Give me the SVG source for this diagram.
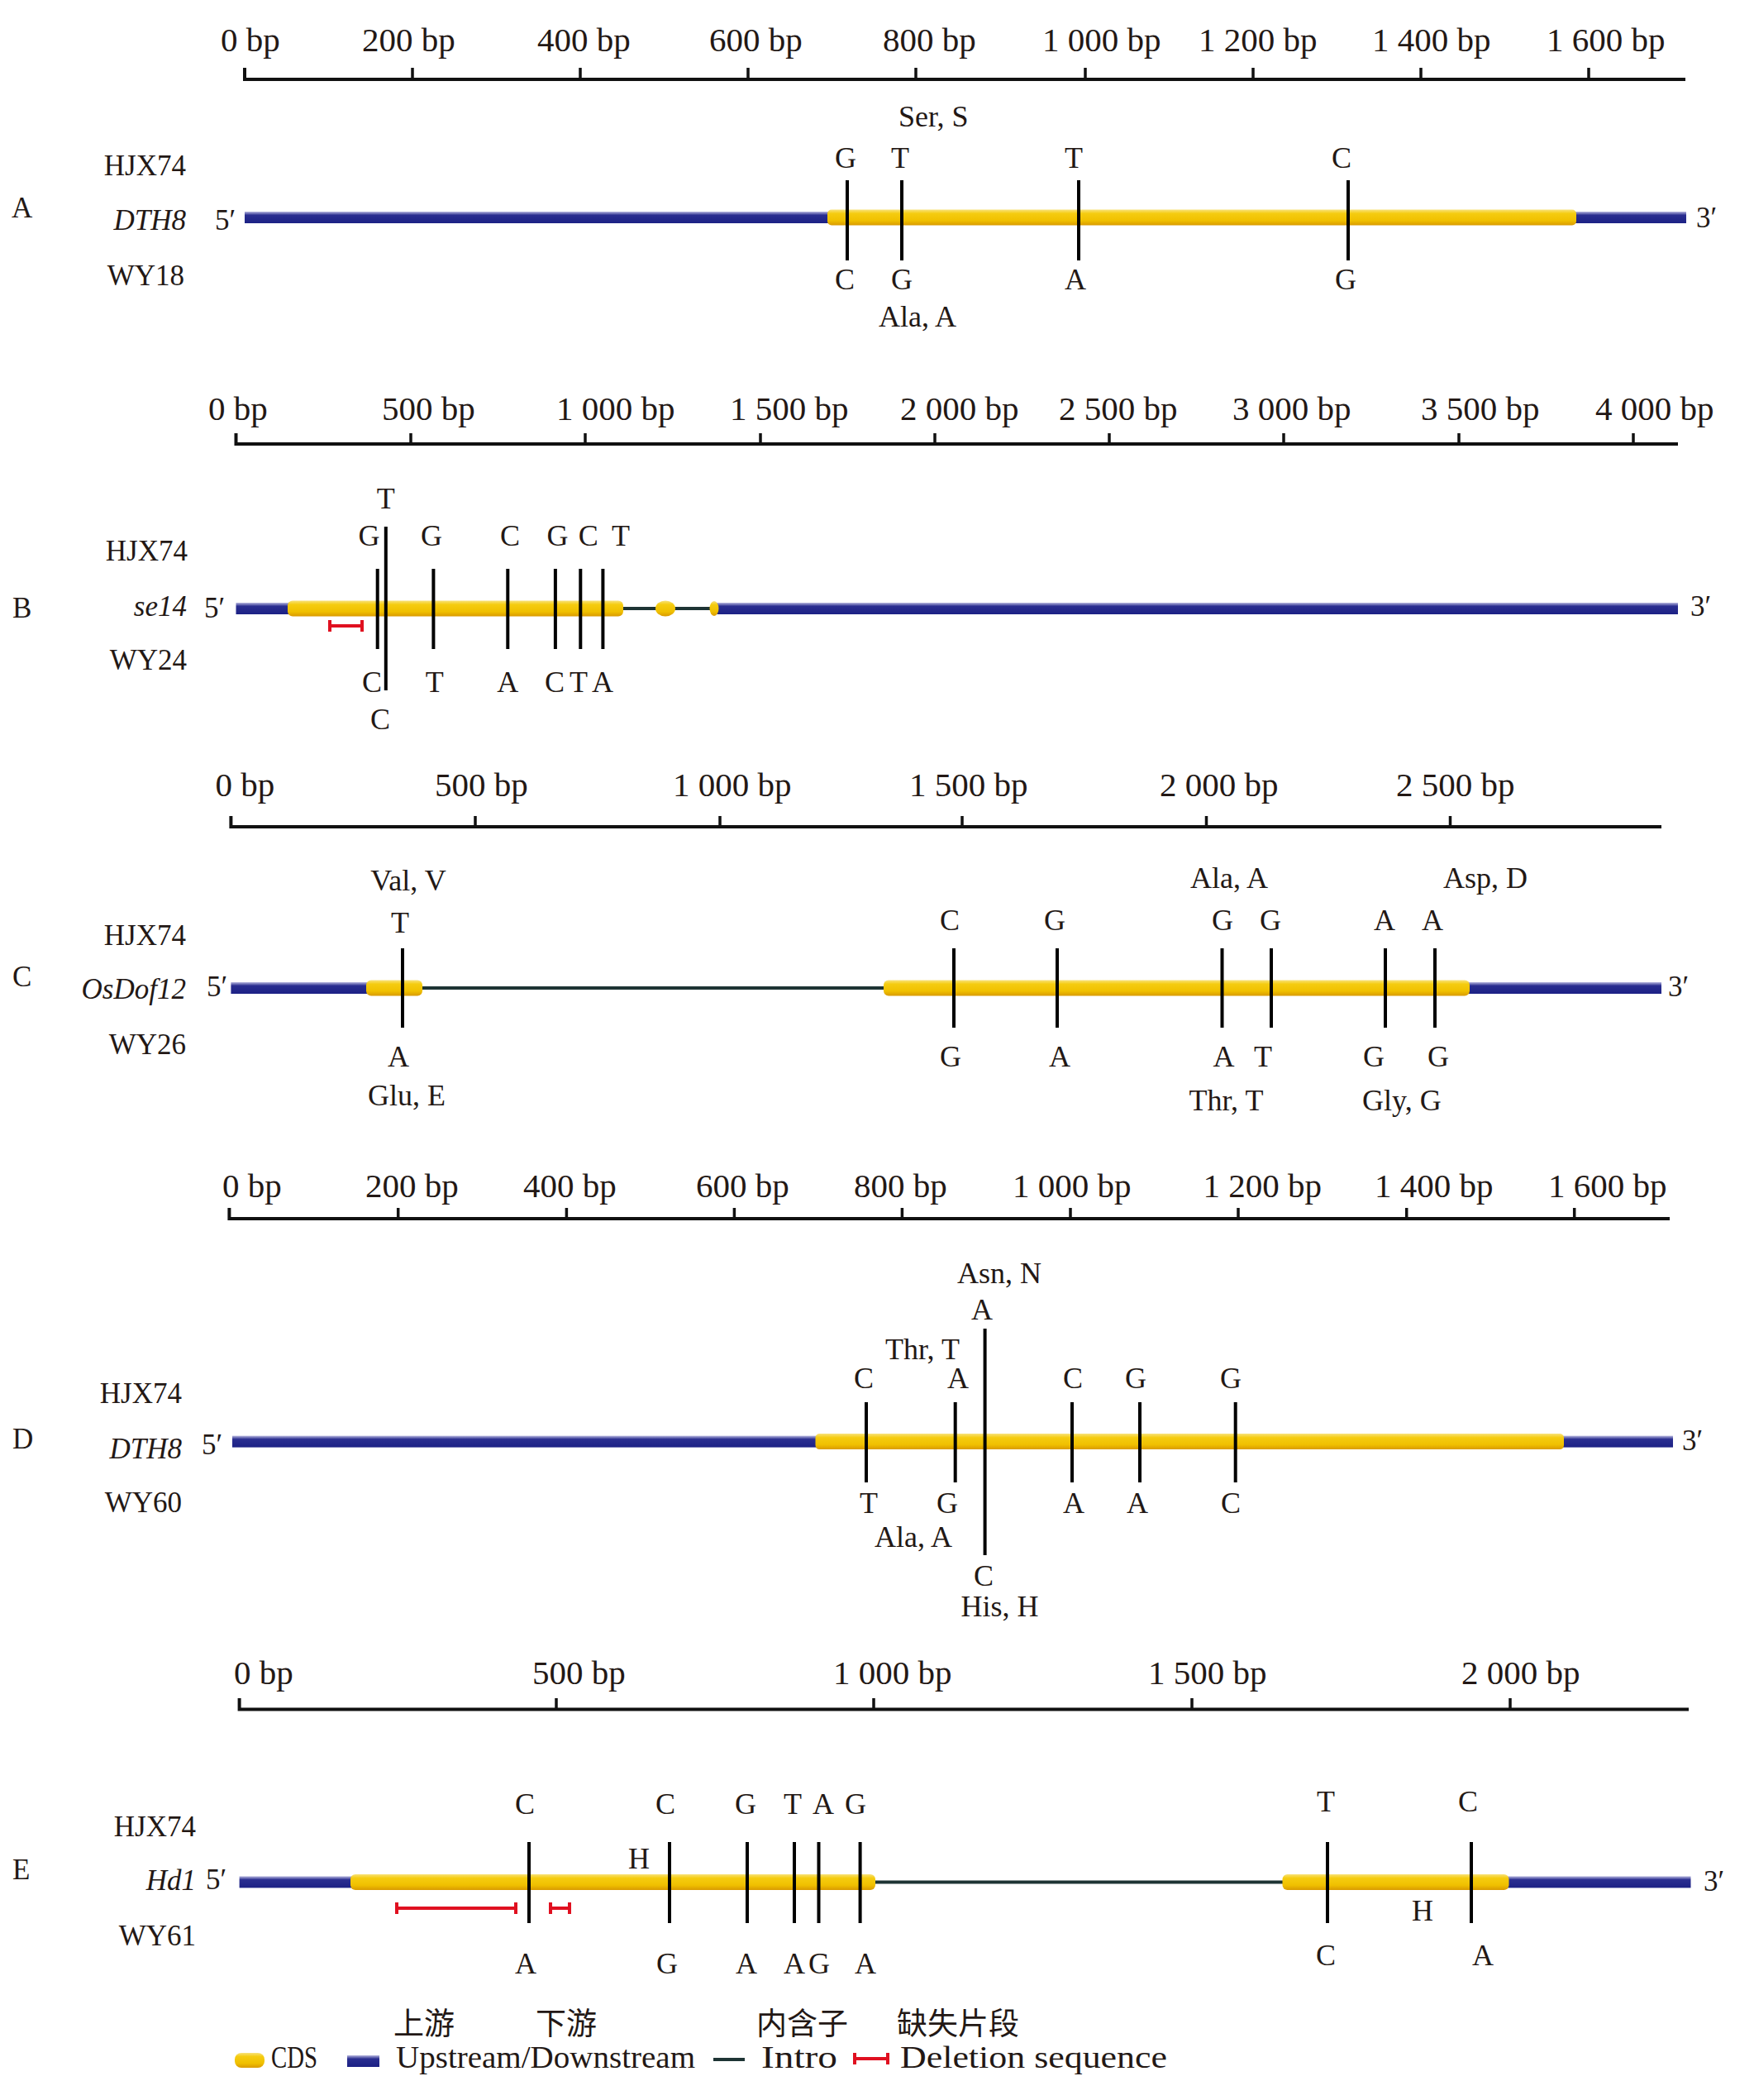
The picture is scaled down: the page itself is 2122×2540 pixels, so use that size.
<svg xmlns="http://www.w3.org/2000/svg" width="2122" height="2540" viewBox="0 0 2122 2540">
<defs>
<linearGradient id="gY" x1="0" y1="0" x2="0" y2="1">
<stop offset="0" stop-color="#f8e27a"/><stop offset="0.25" stop-color="#f5cc10"/><stop offset="0.7" stop-color="#f0c000"/><stop offset="1" stop-color="#d99a00"/>
</linearGradient>
<linearGradient id="gB" x1="0" y1="0" x2="0" y2="1">
<stop offset="0" stop-color="#b8b8e0"/><stop offset="0.3" stop-color="#2a2e90"/><stop offset="1" stop-color="#1c2185"/>
</linearGradient>
<style>
text{font-family:"Liberation Serif","Noto Sans CJK SC",serif;fill:#231815}
.ax{font-size:41px}
.lab{font-size:35px}
.leg{font-size:37px}
.end{text-anchor:end}
.mid{text-anchor:middle}
.snp{font-size:36px;text-anchor:middle}
.aa{font-size:36px}
.gn{font-style:italic}
.cjk{font-family:"Noto Sans CJK SC",sans-serif;font-size:37px}
.axis{stroke:#111;stroke-width:4;fill:none}
.tick{stroke:#111;stroke-width:3.5}
.mut{stroke:#000;stroke-width:4}
.intron{stroke:#1e3434;stroke-width:4}
.del{stroke:#e01020;stroke-width:4;fill:none}
.cds{fill:url(#gY)}
.utr{fill:url(#gB)}
</style>
</defs>
<rect width="2122" height="2540" fill="#fff"/>

<!-- Panel A -->
<g id="panel-A">
<g id="axis-A">
<path class="axis" d="M296,82V96H2039"/>
<path class="tick" d="M499,82V96M702,82V96M905,82V96M1108,82V96M1313,82V96M1516,82V96M1719,82V96M1922,82V96"/>
<text class="ax" x="267" y="62">0 bp</text>
<text class="ax" x="438" y="62">200 bp</text>
<text class="ax" x="650" y="62">400 bp</text>
<text class="ax" x="858" y="62">600 bp</text>
<text class="ax" x="1068" y="62">800 bp</text>
<text class="ax" x="1261" y="62">1 000 bp</text>
<text class="ax" x="1450" y="62">1 200 bp</text>
<text class="ax" x="1660" y="62">1 400 bp</text>
<text class="ax" x="1871" y="62">1 600 bp</text>
</g>
<g id="labels-A">
<text class="lab" x="14" y="263">A</text>
<text class="lab end" x="225" y="212">HJX74</text>
<text class="lab end gn" x="225" y="278">DTH8</text>
<text class="lab" x="260" y="278">5′</text>
<text class="lab end" x="223" y="345">WY18</text>
<text class="lab" x="2052" y="275">3′</text>
</g>
<g id="gene-A">
<rect class="utr" x="296" y="256" width="711" height="14"/>
<rect class="utr" x="1900" y="256" width="140" height="14"/>
<rect class="cds" x="1001" y="253.5" width="906" height="19" rx="5"/>
</g>
<g id="snp-A">
<path class="mut" d="M1025,218V315M1091,218V315M1305,218V315M1631,218V315"/>
<text class="snp" x="1023" y="203">G</text><text class="snp" x="1089" y="203">T</text><text class="snp" x="1299" y="203">T</text><text class="snp" x="1623" y="203">C</text>
<text class="snp" x="1022" y="350">C</text><text class="snp" x="1091" y="350">G</text><text class="snp" x="1301" y="350">A</text><text class="snp" x="1628" y="350">G</text>
<text class="aa" x="1087" y="153">Ser, S</text>
<text class="aa" x="1063" y="395">Ala, A</text>
</g>
</g>

<!-- Panel B -->
<g id="panel-B">
<g id="axis-B">
<path class="axis" d="M285.5,524V537H2030"/>
<path class="tick" d="M497,524V537M708,524V537M920,524V537M1131,524V537M1342,524V537M1553,524V537M1765,524V537M1976,524V537"/>
<text class="ax" x="252" y="508">0 bp</text>
<text class="ax" x="462" y="508">500 bp</text>
<text class="ax" x="673" y="508">1 000 bp</text>
<text class="ax" x="883" y="508">1 500 bp</text>
<text class="ax" x="1089" y="508">2 000 bp</text>
<text class="ax" x="1281" y="508">2 500 bp</text>
<text class="ax" x="1491" y="508">3 000 bp</text>
<text class="ax" x="1719" y="508">3 500 bp</text>
<text class="ax" x="1930" y="508">4 000 bp</text>
</g>
<g id="labels-B">
<text class="lab" x="15" y="747">B</text>
<text class="lab end" x="227" y="678">HJX74</text>
<text class="lab end gn" x="226" y="745">se14</text>
<text class="lab" x="247" y="747">5′</text>
<text class="lab end" x="226" y="810">WY24</text>
<text class="lab" x="2045" y="745">3′</text>
</g>
<g id="gene-B">
<line class="intron" x1="750" y1="736" x2="866" y2="736"/>
<rect class="utr" x="285.5" y="729" width="70" height="14"/>
<rect class="utr" x="866" y="729" width="1164" height="14"/>
<rect class="cds" x="348" y="726.5" width="406" height="19" rx="6"/>
<ellipse class="cds" cx="805" cy="736" rx="12" ry="9.5"/>
<ellipse class="cds" cx="864" cy="736" rx="5.5" ry="9"/>
<path class="del" d="M399,757H438M399,750V764M438,750V764"/>
</g>
<g id="snp-B">
<path class="mut" d="M456.7,688V785M524.4,688V785M614.3,688V785M671.9,688V785M702.3,688V785M729.4,688V785M466.8,637V835"/>
<text class="snp" x="446.5" y="660">G</text><text class="snp" x="522" y="660">G</text><text class="snp" x="617" y="660">C</text><text class="snp" x="674.5" y="660">G</text><text class="snp" x="711.8" y="660">C</text><text class="snp" x="751" y="660">T</text>
<text class="snp" x="466.8" y="615">T</text>
<text class="snp" x="450" y="837">C</text><text class="snp" x="525.7" y="837">T</text><text class="snp" x="614.3" y="837">A</text><text class="snp" x="671" y="837">C</text><text class="snp" x="700" y="837">T</text><text class="snp" x="729" y="837">A</text>
<text class="snp" x="460" y="882">C</text>
</g>
</g>

<!-- Panel C -->
<g id="panel-C">
<g id="axis-C">
<path class="axis" d="M279.4,987V1000H2010"/>
<path class="tick" d="M575,987V1000M871,987V1000M1164,987V1000M1459.5,987V1000M1754.5,987V1000"/>
<text class="ax" x="260.5" y="963">0 bp</text>
<text class="ax" x="526" y="963">500 bp</text>
<text class="ax" x="814" y="963">1 000 bp</text>
<text class="ax" x="1100" y="963">1 500 bp</text>
<text class="ax" x="1403" y="963">2 000 bp</text>
<text class="ax" x="1689" y="963">2 500 bp</text>
</g>
<g id="labels-C">
<text class="lab" x="15" y="1193">C</text>
<text class="lab end" x="225" y="1143">HJX74</text>
<text class="lab end gn" x="225" y="1208">OsDof12</text>
<text class="lab" x="250" y="1205">5′</text>
<text class="lab end" x="225" y="1275">WY26</text>
<text class="lab" x="2018" y="1205">3′</text>
</g>
<g id="gene-C">
<line class="intron" x1="505" y1="1195" x2="1075" y2="1195"/>
<rect class="utr" x="279.4" y="1188" width="170" height="14"/>
<rect class="utr" x="1772" y="1188" width="238" height="14"/>
<rect class="cds" x="443" y="1185.5" width="68" height="19" rx="6"/>
<rect class="cds" x="1069" y="1185.5" width="709" height="19" rx="6"/>
</g>
<g id="snp-C">
<path class="mut" d="M487,1147V1243M1154,1147V1243M1279,1147V1243M1478.5,1147V1243M1538,1147V1243M1676,1147V1243M1736,1147V1243"/>
<text class="snp" x="484" y="1128">T</text><text class="snp" x="1149" y="1125">C</text><text class="snp" x="1276" y="1125">G</text><text class="snp" x="1479" y="1125">G</text><text class="snp" x="1537" y="1125">G</text><text class="snp" x="1675" y="1125">A</text><text class="snp" x="1733" y="1125">A</text>
<text class="snp" x="482" y="1290">A</text><text class="snp" x="1150" y="1290">G</text><text class="snp" x="1282" y="1290">A</text><text class="snp" x="1480.5" y="1290">A</text><text class="snp" x="1528" y="1290">T</text><text class="snp" x="1662" y="1290">G</text><text class="snp" x="1740" y="1290">G</text>
<text class="aa mid" x="494" y="1077">Val, V</text>
<text class="aa mid" x="492" y="1337">Glu, E</text>
<text class="aa" x="1440" y="1074">Ala, A</text>
<text class="aa" x="1746" y="1074">Asp, D</text>
<text class="aa" x="1438.5" y="1343">Thr, T</text>
<text class="aa" x="1648" y="1343">Gly, G</text>
</g>
</g>

<!-- Panel D -->
<g id="panel-D">
<g id="axis-D">
<path class="axis" d="M277.4,1461V1474H2020"/>
<path class="tick" d="M481.7,1461V1474M685.4,1461V1474M888.4,1461V1474M1091.4,1461V1474M1295,1461V1474M1498,1461V1474M1701.7,1461V1474M1904.7,1461V1474"/>
<text class="ax" x="269" y="1448">0 bp</text>
<text class="ax" x="442" y="1448">200 bp</text>
<text class="ax" x="633" y="1448">400 bp</text>
<text class="ax" x="842" y="1448">600 bp</text>
<text class="ax" x="1033" y="1448">800 bp</text>
<text class="ax" x="1225" y="1448">1 000 bp</text>
<text class="ax" x="1455.5" y="1448">1 200 bp</text>
<text class="ax" x="1663" y="1448">1 400 bp</text>
<text class="ax" x="1873" y="1448">1 600 bp</text>
</g>
<g id="labels-D">
<text class="lab" x="15" y="1752">D</text>
<text class="lab end" x="220" y="1697">HJX74</text>
<text class="lab end gn" x="220" y="1764">DTH8</text>
<text class="lab" x="244" y="1759">5′</text>
<text class="lab end" x="220" y="1829">WY60</text>
<text class="lab" x="2035" y="1754">3′</text>
</g>
<g id="gene-D">
<rect class="utr" x="281" y="1736.6" width="712" height="14"/>
<rect class="utr" x="1886" y="1736.6" width="138" height="14"/>
<rect class="cds" x="986.5" y="1734.1" width="905.5" height="19" rx="5"/>
</g>
<g id="snp-D">
<path class="mut" d="M1048,1696V1793M1155.7,1696V1793M1297,1696V1793M1379,1696V1793M1494.7,1696V1793M1191.6,1607V1881"/>
<text class="snp" x="1045" y="1679">C</text><text class="snp" x="1159" y="1679">A</text><text class="snp" x="1298" y="1679">C</text><text class="snp" x="1374" y="1679">G</text><text class="snp" x="1489" y="1679">G</text>
<text class="snp" x="1188" y="1596">A</text>
<text class="snp" x="1051" y="1830">T</text><text class="snp" x="1146" y="1830">G</text><text class="snp" x="1299" y="1830">A</text><text class="snp" x="1376" y="1830">A</text><text class="snp" x="1489" y="1830">C</text>
<text class="snp" x="1190" y="1918">C</text>
<text class="aa" x="1158" y="1552">Asn, N</text>
<text class="aa" x="1071" y="1644">Thr, T</text>
<text class="aa" x="1058" y="1871">Ala, A</text>
<text class="aa" x="1162.5" y="1955">His, H</text>
</g>
</g>

<!-- Panel E -->
<g id="panel-E">
<g id="axis-E">
<path class="axis" d="M289.6,2054V2067.5H2043"/>
<path class="tick" d="M673,2054V2067.5M1057,2054V2067.5M1442,2054V2067.5M1827,2054V2067.5"/>
<text class="ax" x="283" y="2037">0 bp</text>
<text class="ax" x="644" y="2037">500 bp</text>
<text class="ax" x="1008" y="2037">1 000 bp</text>
<text class="ax" x="1389" y="2037">1 500 bp</text>
<text class="ax" x="1768" y="2037">2 000 bp</text>
</g>
<g id="labels-E">
<text class="lab" x="15" y="2273">E</text>
<text class="lab end" x="237" y="2221">HJX74</text>
<text class="lab end gn" x="237" y="2286">Hd1</text>
<text class="lab" x="249" y="2285">5′</text>
<text class="lab end" x="237" y="2353">WY61</text>
<text class="lab" x="2061" y="2287">3′</text>
</g>
<g id="gene-E">
<line class="intron" x1="1053" y1="2276.4" x2="1557" y2="2276.4"/>
<rect class="utr" x="289.6" y="2269.4" width="141" height="14"/>
<rect class="utr" x="1819" y="2269.4" width="226.5" height="14"/>
<rect class="cds" x="424" y="2266.9" width="635" height="19" rx="6"/>
<rect class="cds" x="1551.5" y="2266.9" width="274" height="19" rx="6"/>
<path class="del" d="M480,2308H624M480,2301V2315M624,2301V2315M666,2308H689M666,2301V2315M689,2301V2315"/>
</g>
<g id="snp-E">
<path class="mut" d="M640,2228V2326M810,2228V2326M904,2228V2326M961,2228V2326M990.5,2228V2326M1040.6,2228V2326M1606,2228V2326M1780,2228V2326"/>
<text class="snp" x="635" y="2194">C</text><text class="snp" x="805" y="2194">C</text><text class="snp" x="902" y="2194">G</text><text class="snp" x="959" y="2194">T</text><text class="snp" x="996" y="2194">A</text><text class="snp" x="1035" y="2194">G</text><text class="snp" x="1604" y="2191">T</text><text class="snp" x="1776" y="2191">C</text>
<text class="snp" x="636" y="2387">A</text><text class="snp" x="807" y="2387">G</text><text class="snp" x="903" y="2387">A</text><text class="snp" x="961" y="2387">A</text><text class="snp" x="991" y="2387">G</text><text class="snp" x="1047" y="2387">A</text><text class="snp" x="1604" y="2377">C</text><text class="snp" x="1794" y="2377">A</text>
<text class="snp" x="773" y="2260">H</text>
<text class="snp" x="1721" y="2323">H</text>
</g>
</g>

<!-- Legend -->
<g id="legend">
<rect class="cds" x="284" y="2483" width="36" height="18" rx="8"/>
<text class="leg" x="328" y="2501" textLength="56" lengthAdjust="spacingAndGlyphs">CDS</text>
<rect class="utr" x="420" y="2486" width="39" height="14"/>
<text class="leg" x="479" y="2501" textLength="362" lengthAdjust="spacingAndGlyphs">Upstream/Downstream</text>
<line class="intron" x1="863" y1="2491" x2="901" y2="2491"/>
<text class="leg" x="921" y="2501" textLength="92" lengthAdjust="spacingAndGlyphs">Intro</text>
<path class="del" d="M1034,2490H1074M1034,2483V2497M1074,2483V2497"/>
<text class="leg" x="1089" y="2501" textLength="323" lengthAdjust="spacingAndGlyphs">Deletion sequence</text>
<text class="cjk" x="476" y="2461">上游</text>
<text class="cjk" x="648" y="2461">下游</text>
<text class="cjk" x="915" y="2461">内含子</text>
<text class="cjk" x="1085" y="2461">缺失片段</text>
</g>
</svg>
